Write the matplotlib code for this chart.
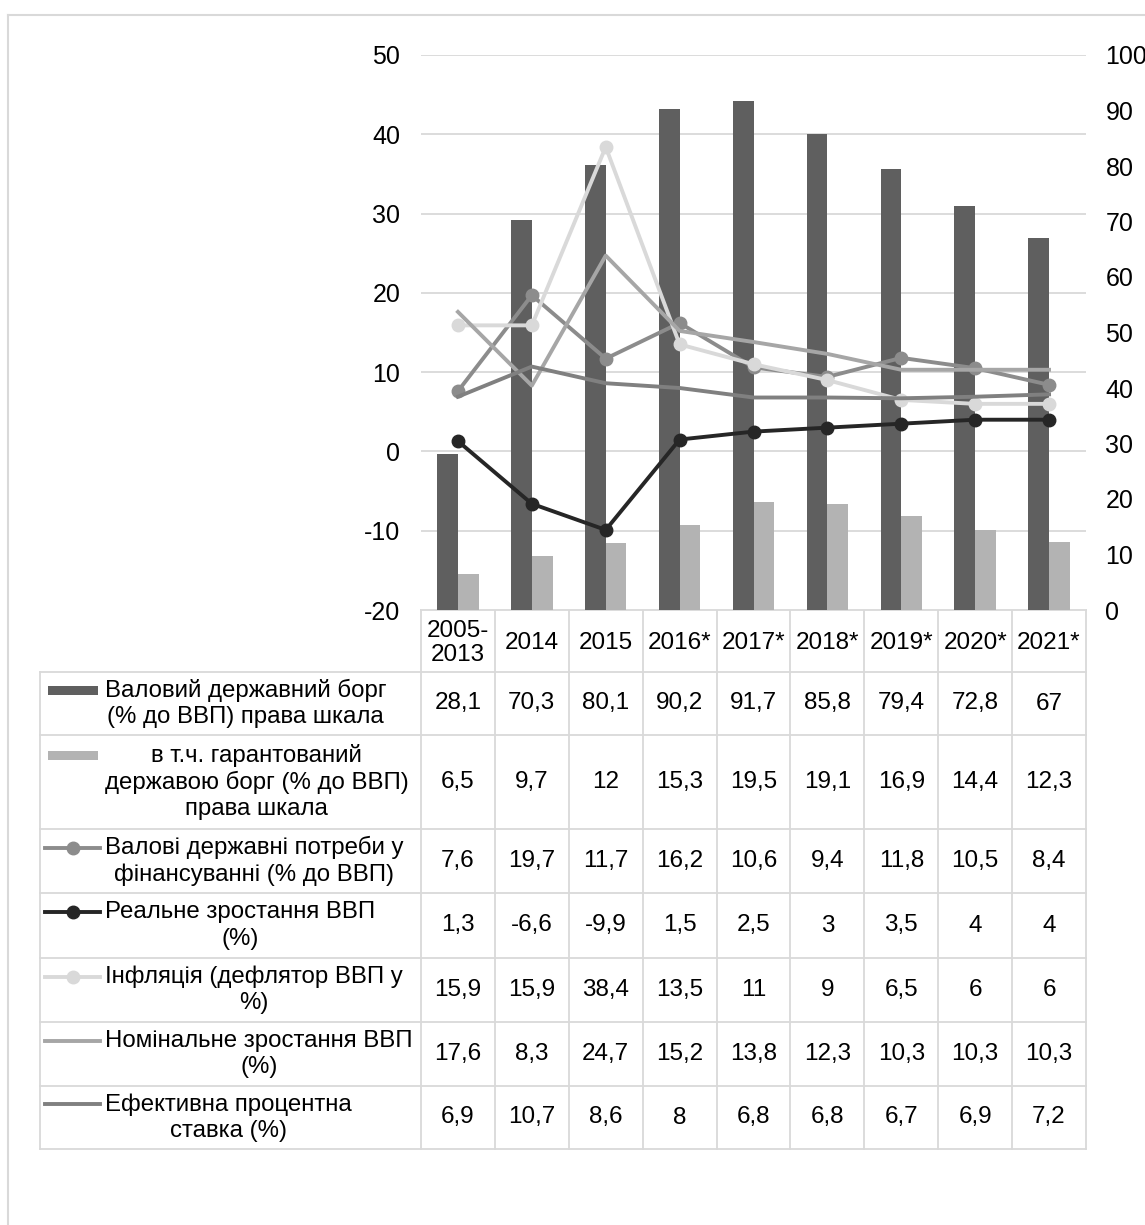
import numpy as np
import matplotlib.pyplot as plt
from matplotlib import transforms
from matplotlib.patches import Rectangle

plt.rcParams['font.family'] = ['Liberation Sans', 'DejaVu Sans']
plt.rcParams['axes.unicode_minus'] = False

years = ['2005-\n2013', '2014', '2015', '2016*', '2017*', '2018*', '2019*', '2020*', '2021*']
gross_debt = [28.1, 70.3, 80.1, 90.2, 91.7, 85.8, 79.4, 72.8, 67]
guaranteed_debt = [6.5, 9.7, 12, 15.3, 19.5, 19.1, 16.9, 14.4, 12.3]
financing_needs = [7.6, 19.7, 11.7, 16.2, 10.6, 9.4, 11.8, 10.5, 8.4]
real_growth = [1.3, -6.6, -9.9, 1.5, 2.5, 3, 3.5, 4, 4]
inflation = [15.9, 15.9, 38.4, 13.5, 11, 9, 6.5, 6, 6]
nominal_growth = [17.6, 8.3, 24.7, 15.2, 13.8, 12.3, 10.3, 10.3, 10.3]
interest_rate = [6.9, 10.7, 8.6, 8, 6.8, 6.8, 6.7, 6.9, 7.2]

row_labels = ['Валовий державний борг\n(% до ВВП) права шкала',
              'в т.ч. гарантований\nдержавою борг (% до ВВП)\nправа шкала',
              'Валові державні потреби у\nфінансуванні (% до ВВП)',
              'Реальне зростання ВВП\n(%)',
              'Інфляція (дефлятор ВВП у\n%)',
              'Номінальне зростання ВВП\n(%)',
              'Ефективна процентна\nставка (%)']

# series styles: (kind, colour, marker)
styles = [('bar', '#5f5f5f', None), ('bar', '#b3b3b3', None),
          ('line', '#8c8c8c', 'o'), ('line', '#262626', 'o'),
          ('line', '#d9d9d9', 'o'), ('line', '#a6a6a6', None),
          ('line', '#808080', None)]
rows = [gross_debt, guaranteed_debt, financing_needs, real_growth,
        inflation, nominal_growth, interest_rate]

W, H = 1145, 1225
grid_c = '#d9d9d9'
fig = plt.figure(figsize=(W / 100, H / 100), dpi=100)

# pixel overlay for table and frame
tab = fig.add_axes([0, 0, 1, 1])
tab.set_xlim(0, W)
tab.set_ylim(H, 0)
tab.axis('off')

# chart
px0, px1, py0, py1 = 421, 1086, 55, 610
ax2 = fig.add_axes([px0 / W, 1 - py1 / H, (px1 - px0) / W, (py1 - py0) / H])
ax = ax2.twinx()
ax.yaxis.tick_left()
ax2.yaxis.tick_right()
x = np.arange(len(years))

trans = transforms.blended_transform_factory(ax2.transAxes, ax.transData)
for v in range(-20, 51, 10):
    ax2.plot([0, 1], [v, v], transform=trans, color=grid_c, lw=1.3, zorder=0.5)

ax2.bar(x - 0.14, gross_debt, 0.28, color=styles[0][1], zorder=2)
ax2.bar(x + 0.14, guaranteed_debt, 0.28, color=styles[1][1], zorder=2)

for vals, (kind, col, mk) in zip(rows[2:], styles[2:]):
    ax.plot(x, vals, color=col, lw=2.8, marker=mk, ms=9, zorder=3)

ax.set_ylim(-20, 50)
ax.set_yticks(range(-20, 51, 10))
ax2.set_ylim(0, 100)
ax2.set_yticks(range(0, 101, 10))
ax2.set_xlim(-0.5, len(years) - 0.5)
ax.set_xlim(-0.5, len(years) - 0.5)
ax.set_xticks([])
ax2.set_xticks([])
for a in (ax, ax2):
    for s in a.spines.values():
        s.set_visible(False)
ax.tick_params(axis='y', length=0, pad=15, labelsize=18, labelleft=True, labelright=False)
ax2.tick_params(axis='y', length=0, pad=14, labelsize=18, labelleft=False, labelright=True)

# table
lc = grid_c
lw = 1.3
n = len(years)
colw = (px1 - px0) / n
row_y = [610, 672, 735, 829, 893, 958, 1022, 1086, 1149]
tab.plot([px0, px1], [row_y[0], row_y[0]], color=lc, lw=lw)
for yy in row_y[1:]:
    tab.plot([40, px1], [yy, yy], color=lc, lw=lw)
tab.plot([40, 40], [row_y[1], row_y[-1]], color=lc, lw=lw)
for k in range(n + 1):
    xx = px0 + k * colw
    tab.plot([xx, xx], [row_y[0], row_y[-1]], color=lc, lw=lw)

fs = 17.5
for i, yr in enumerate(years):
    tab.text(px0 + (i + 0.5) * colw, (row_y[0] + row_y[1]) / 2 + 2, yr,
             ha='center', va='center', multialignment='center', fontsize=fs,
             linespacing=1.1)

for r, (lab, vals, (kind, col, mk)) in enumerate(zip(row_labels, rows, styles)):
    yc = (row_y[r + 1] + row_y[r + 2]) / 2
    nl = lab.count('\n')
    ykey = yc - nl * 13.5
    tab.text(105, yc, lab, ha='left', va='center', multialignment='center',
             fontsize=17.3, linespacing=1.25)
    if kind == 'bar':
        tab.add_patch(Rectangle((48, ykey - 4), 50, 9, color=col, lw=0))
    else:
        tab.plot([45, 100], [ykey, ykey], color=col, lw=2.8)
        if mk:
            tab.plot([72.5], [ykey], color=col, marker=mk, ms=9)
    for i, v in enumerate(vals):
        tab.text(px0 + (i + 0.5) * colw, yc, f'{v:g}'.replace('.', ','),
                 ha='center', va='center', fontsize=fs)

# outer frame
tab.plot([8, W], [15, 15], color=grid_c, lw=1.5)
tab.plot([8, 8], [15, H], color=grid_c, lw=1.5)

fig.savefig('out.png', dpi=100)
